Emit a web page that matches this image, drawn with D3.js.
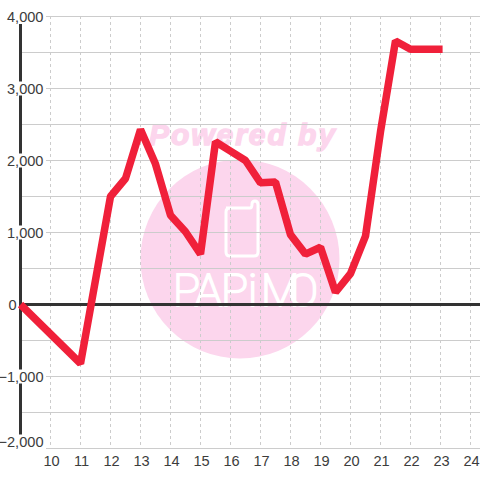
<!DOCTYPE html>
<html><head><meta charset="utf-8">
<script src="https://cdn.jsdelivr.net/npm/d3@7/dist/d3.min.js"></script>
<style>html,body{margin:0;padding:0;background:#fff}svg{display:block}text{font-family:"Liberation Sans",Arial,sans-serif}</style>
</head><body><svg id="c" width="480" height="480"></svg>
<script>
const hours=[9,11,12,12.5,13,13.5,14,14.5,15,15.5,16,16.5,17,17.5,18,18.5,19,19.5,20,20.5,21,21.5,22,23.07];
const values=[0,-820,1500,1750,2430,1950,1240,1010,700,2260,2130,2000,1690,1700,970,700,795,170,430,950,2400,3660,3545,3545];
const xTicks=[10,11,12,13,14,15,16,17,18,19,20,21,22,23,24];
const yMajor=[4000,3000,2000,1000,0,-1000,-2000];
const yMinor=[3500,2500,1500,500,-500,-1500];
const watermarkTop="Powered by", watermarkBrand="PAPiMO";

const x=d3.scaleLinear().domain([10,24]).range([50.5,470.5]);
const y=d3.scaleLinear().domain([4000,-2000]).range([16.5,448.5]);
const svg=d3.select("#c");
const pink="#fcd6ed", grid="#cccccc", dark="#333", ink="#3c3c3c";

// watermark
svg.append("circle").attr("cx",240).attr("cy",259).attr("r",99.5).attr("fill",pink);
svg.append("text").attr("x",242).attr("y",145).attr("text-anchor","middle")
  .attr("font-size",30).attr("font-weight","bold").attr("font-style","italic")
  .attr("fill",pink).attr("stroke",pink).attr("stroke-width",1.4).attr("textLength",186).text(watermarkTop);
svg.append("path").attr("fill","none").attr("stroke","#fff").attr("stroke-width",3)
  .attr("d","M226 208H250Q252 208 252 204Q252 201 255 201Q258 201 258 205V252Q258 256 254 256H230Q226 256 226 252V212Q226 208 230 208");
svg.append("text").attr("x","173 195 221 248 261 288").attr("y",306)
  .attr("font-size",45).attr("font-weight",100).attr("fill","#fff").attr("stroke","#fff").attr("stroke-width",2.2)
  .style("font-family","Roboto,sans-serif").text(watermarkBrand);

// grid
const gv=svg.append("g").attr("stroke",grid).attr("stroke-width",1).attr("stroke-dasharray","3 3");
gv.selectAll("line").data(xTicks).join("line")
  .attr("x1",d=>x(d)).attr("x2",d=>x(d)).attr("y1",16).attr("y2",448);
const gh=svg.append("g").attr("stroke",grid).attr("stroke-width",1);
gh.selectAll(".maj").data(yMajor.filter(d=>d!==0)).join("line").attr("class","maj")
  .attr("x1",46).attr("x2",480).attr("y1",d=>y(d)).attr("y2",d=>y(d));
gh.selectAll(".min").data(yMinor).join("line").attr("class","min")
  .attr("x1",21).attr("x2",480).attr("y1",d=>y(d)).attr("y2",d=>y(d));

// axes
svg.append("line").attr("x1",20.5).attr("x2",20.5).attr("y1",24).attr("y2",436).attr("stroke",dark).attr("stroke-width",3);
svg.append("line").attr("x1",21).attr("x2",480).attr("y1",y(0)).attr("y2",y(0)).attr("stroke",dark).attr("stroke-width",3);

// labels
const fmt=d3.format(",");
const labelY=v=>v===-2000?y(v)-7:y(v);
const lab=svg.append("g").attr("font-size",14.6).attr("fill",ink);
yMajor.filter(v=>v!==0).forEach(v=>{
  const w=v<0?42:38;
  lab.append("rect").attr("x",44-w).attr("y",labelY(v)-7).attr("width",w).attr("height",14).attr("fill","#fff");
  lab.append("text").attr("x",43.5).attr("y",labelY(v)+5).attr("text-anchor","end").text(fmt(v));
});
lab.append("text").attr("x",16.5).attr("y",y(0)+5).attr("text-anchor","end").text(fmt(yMajor[4]));
lab.selectAll(".xl").data(xTicks).join("text").attr("class","xl")
  .attr("x",d=>x(d)+1).attr("y",466).attr("text-anchor","middle").text(d=>d);

// series
const line=d3.line().x((d,i)=>x(hours[i])).y(d=>y(d));
svg.append("path").datum(values).attr("d",line).attr("fill","none")
  .attr("stroke","#f0203a").attr("stroke-width",7.5).attr("stroke-linejoin","bevel");
</script></body></html>
